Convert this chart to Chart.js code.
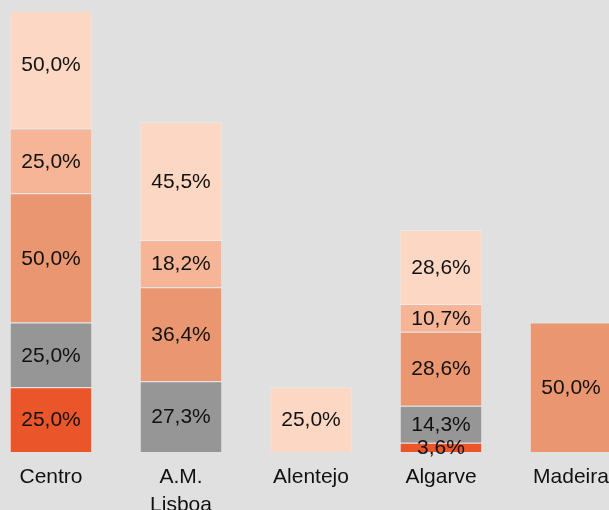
<!DOCTYPE html>
<html>
<head>
<meta charset="utf-8">
<title>Distribuição por região</title>
<script src="https://cdn.jsdelivr.net/npm/chart.js@4/dist/chart.umd.min.js"></script>
<style>
  html, body { margin: 0; padding: 0; background: #e0e0e0; overflow: hidden; }
  body { width: 609px; height: 510px; position: relative; }
  #wrap { position: absolute; left: -14px; top: 0; width: 650px; height: 510px; }
</style>
</head>
<body>
<div id="wrap"><canvas id="chart"></canvas></div>
<script>
// regions along the x axis
var regioes = ['Centro', ['A.M.', 'Lisboa'], 'Alentejo', 'Algarve', 'Madeira'];

// shares per region, stacked bottom to top (null = no segment)
var serie1 = [25.0, null, null, 3.6, null];
var serie2 = [25.0, 27.3, null, 14.3, null];
var serie3 = [50.0, 36.4, null, 28.6, 50.0];
var serie4 = [25.0, 18.2, null, 10.7, null];
var serie5 = [50.0, 45.5, 25.0, 28.6, null];

var cores = ['#ea5529', '#969696', '#ea9670', '#f5b596', '#fcd8c4'];

function fmt(v) {
  return v.toFixed(1).replace('.', ',') + '%';
}

// writes the value in the middle of every segment
var rotulos = {
  id: 'rotulos',
  afterDatasetsDraw: function(chart) {
    var ctx = chart.ctx;
    ctx.save();
    ctx.font = '21px "Liberation Sans", Arial, sans-serif';
    ctx.fillStyle = '#111';
    ctx.textAlign = 'center';
    ctx.textBaseline = 'middle';
    chart.data.datasets.forEach(function(ds, i) {
      chart.getDatasetMeta(i).data.forEach(function(bar, j) {
        var v = ds.data[j];
        if (v == null) return;
        var p = bar.getCenterPoint();
        ctx.fillText(fmt(v), p.x, p.y + 1);
      });
    });
    ctx.restore();
  }
};

var series = [serie1, serie2, serie3, serie4, serie5];

new Chart(document.getElementById('chart'), {
  type: 'bar',
  data: {
    labels: regioes,
    datasets: series.map(function(s, i) {
      return {
        label: 'Série ' + (i + 1),
        data: s,
        backgroundColor: cores[i],
        borderColor: 'rgba(255,255,255,0.35)',
        borderWidth: 1,
        clip: 0
      };
    })
  },
  options: {
    responsive: true,
    maintainAspectRatio: false,
    animation: false,
    categoryPercentage: 1,
    barPercentage: 0.635,
    layout: { padding: { top: 12, left: 0, right: 0, bottom: 0 } },
    plugins: {
      legend: { display: false },
      tooltip: { enabled: false }
    },
    scales: {
      x: {
        stacked: true,
        grid: { display: false, drawTicks: false },
        border: { display: false },
        ticks: {
          color: '#111',
          padding: 12,
          font: { family: '"Liberation Sans", Arial, sans-serif', size: 21, lineHeight: 1.3 }
        },
        afterFit: function(scale) { scale.height = 58; }
      },
      y: {
        stacked: true,
        display: false,
        min: 0,
        max: 170
      }
    }
  },
  plugins: [rotulos]
});
</script>
</body>
</html>
